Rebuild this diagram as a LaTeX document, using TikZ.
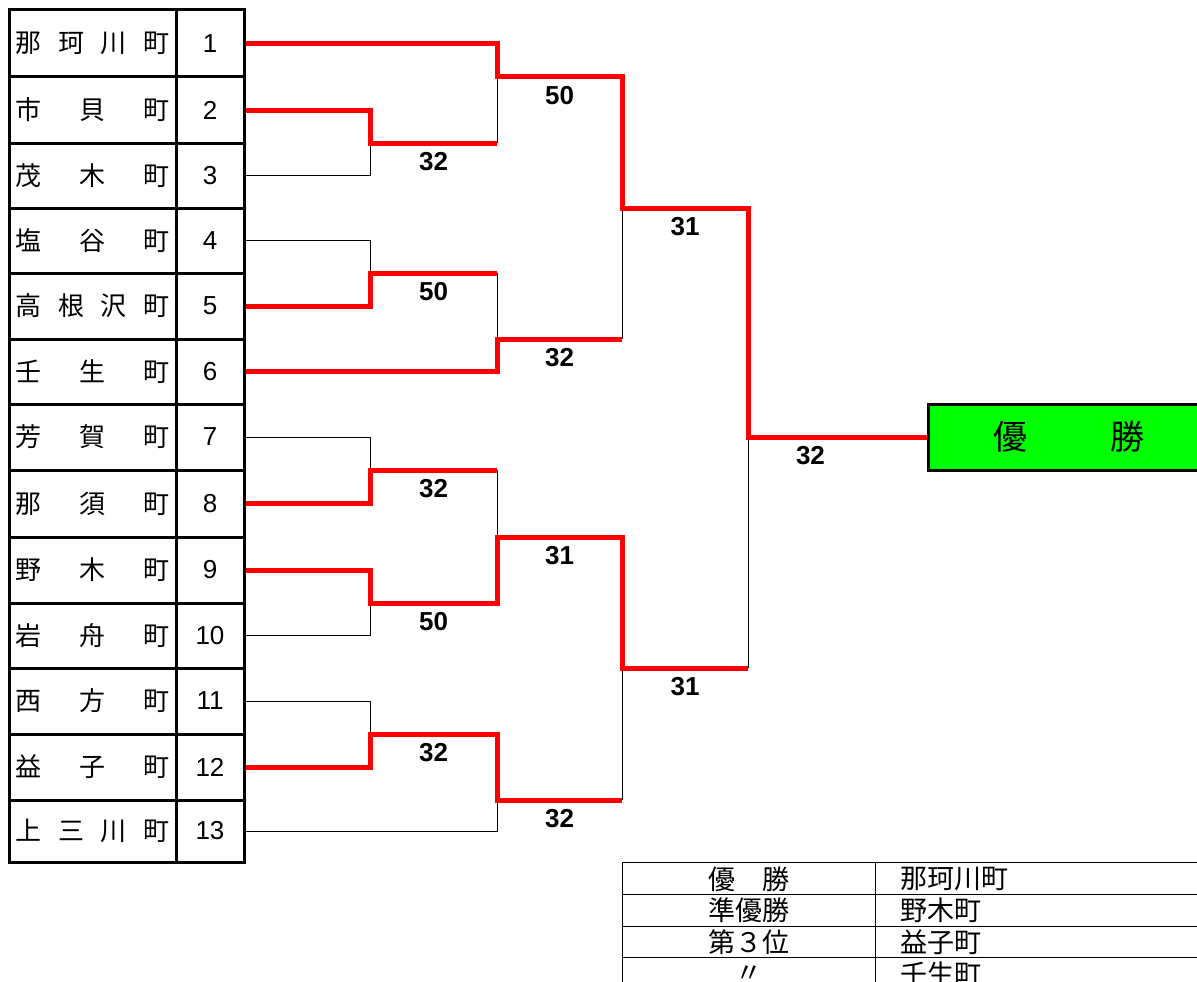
\documentclass[tikz,border=0pt]{standalone}
\usepackage{fontspec}
\setmainfont{Liberation Sans}
\newfontfamily\jpfont{Noto Sans CJK JP}
\usetikzlibrary{backgrounds}
\definecolor{winred}{HTML}{FF0000}
\definecolor{wingreen}{HTML}{00FF00}

\begin{document}
\begin{tikzpicture}[x=1pt, y=-1pt,
    namecell/.style={rectangle, draw, line width=3pt, minimum width=167pt,
                     inner sep=0pt, outer sep=0pt,
                     font=\jpfont\fontsize{26}{26}\selectfont},
    numcell/.style={rectangle, draw, line width=3pt, minimum width=68pt,
                    inner sep=0pt, outer sep=0pt,
                    font=\fontsize{26}{26}\selectfont},
    winline/.style={winred, line width=5pt},
    loseline/.style={black, line width=1pt},
    score/.style={text=black, font=\bfseries\fontsize{26}{26}\selectfont,
                  inner sep=0pt, yshift=-19pt},
    champ/.style={rectangle, draw, line width=3pt, fill=wingreen,
                  minimum width=282pt, minimum height=66pt,
                  font=\jpfont\fontsize{34}{34}\selectfont},
    result/.style={font=\jpfont\fontsize{27}{27}\selectfont, inner sep=0pt}
]
    \useasboundingbox (0,0) rectangle (1197,982);

    % team table
    \foreach \i/\nm/\ya/\yb in {
        1/{那\hfill 珂\hfill 川\hfill 町}/10/77,
        2/{市\hfill 貝\hfill 町}/77/143,
        3/{茂\hfill 木\hfill 町}/143/208,
        4/{塩\hfill 谷\hfill 町}/208/273,
        5/{高\hfill 根\hfill 沢\hfill 町}/273/339,
        6/{壬\hfill 生\hfill 町}/339/404,
        7/{芳\hfill 賀\hfill 町}/404/470,
        8/{那\hfill 須\hfill 町}/470/537,
        9/{野\hfill 木\hfill 町}/537/603,
        10/{岩\hfill 舟\hfill 町}/603/668,
        11/{西\hfill 方\hfill 町}/668/734,
        12/{益\hfill 子\hfill 町}/734/800,
        13/{上\hfill 三\hfill 川\hfill 町}/800/862}{
        \node[namecell, minimum height={(\yb-\ya)*1pt}] (n\i)
            at (92.5,{(\ya+\yb)/2}) {\makebox[154pt]{\nm}};
        \node[numcell, minimum height={(\yb-\ya)*1pt}] (t\i)
            at (210,{(\ya+\yb)/2}) {\i};
    }

    \node[champ] (win) at (1069,437) {優\hspace{83pt}勝};

    % bracket columns and joints
    \coordinate (c1) at (370,0);
    \coordinate (c2) at (497,0);
    \coordinate (c3) at (622,0);
    \coordinate (c4) at (748,0);
    \coordinate (r1a) at (t2.south -| c1);
    \coordinate (r1b) at (t4.south -| c1);
    \coordinate (r1c) at (t7.south -| c1);
    \coordinate (r1d) at (t9.south -| c1);
    \coordinate (r1e) at (t11.south -| c1);
    \coordinate (q1) at (t1.south -| c2);
    \coordinate (q2) at (t5.south -| c2);
    \coordinate (q3) at (t8.south -| c2);
    \coordinate (q4) at (t12.south -| c2);
    \coordinate (s1) at (t3.south -| c3);
    \coordinate (s2) at (t10.south -| c3);
    \coordinate (fin) at (t7 -| c4);

    \begin{scope}[on background layer]
        % losing sides
        \draw[loseline] (t3.east) -- (t3.east -| r1a) -- (r1a);
        \draw[loseline] (r1a -| q1) -- (q1);
        \draw[loseline] (t4.east) -- (t4.east -| r1b) -- (r1b);
        \draw[loseline] (r1b -| q2) -- (q2);
        \draw[loseline] (q2 -| s1) -- (s1);
        \draw[loseline] (t7.east) -- (t7.east -| r1c) -- (r1c);
        \draw[loseline] (r1c -| q3) -- (q3);
        \draw[loseline] (t10.east) -- (t10.east -| r1d) -- (r1d);
        \draw[loseline] (t11.east) -- (t11.east -| r1e) -- (r1e);
        \draw[loseline] (t13.east) -- (t13.east -| q4) -- (q4);
        \draw[loseline] (q4 -| s2) -- (s2);
        \draw[loseline] (s2 -| fin) -- (fin);

        % winning sides
        \draw[winline] (t1.east) -- (t1.east -| q1) -- (q1)
            -- node[score] (sc-q1) {50} (q1 -| s1) -- (s1)
            -- node[score] (sc-s1) {31} (s1 -| fin) -- (fin)
            -- node[score, pos=.35] (sc-fin) {32} (win.west);
        \draw[winline] (t2.east) -- (t2.east -| r1a) -- (r1a)
            -- node[score] (sc-r1a) {32} (r1a -| q1);
        \draw[winline] (t5.east) -- (t5.east -| r1b) -- (r1b)
            -- node[score] (sc-r1b) {50} (r1b -| q2);
        \draw[winline] (t6.east) -- (t6.east -| q2) -- (q2)
            -- node[score] (sc-q2) {32} (q2 -| s1);
        \draw[winline] (t8.east) -- (t8.east -| r1c) -- (r1c)
            -- node[score] (sc-r1c) {32} (r1c -| q3);
        \draw[winline] (t9.east) -- (t9.east -| r1d) -- (r1d)
            -- node[score] (sc-r1d) {50} (r1d -| q3) -- (q3)
            -- node[score] (sc-q3) {31} (q3 -| s2) -- (s2)
            -- node[score] (sc-s2) {31} (s2 -| fin);
        \draw[winline] (t12.east) -- (t12.east -| r1e) -- (r1e)
            -- node[score] (sc-r1e) {32} (r1e -| q4) -- (q4)
            -- node[score] (sc-q4) {32} (q4 -| s2);
    \end{scope}

    % results table
    \draw[loseline] (622.5,862) rectangle (1210,989);
    \foreach \yy in {894,926,957}
        \draw[loseline] (622.5,\yy) -- (1210,\yy);
    \draw[loseline] (875,862) -- (875,989);
    \foreach \k/\rank/\town/\yc in {1/{優　勝}/那珂川町/879,
        2/準優勝/野木町/910.5, 3/第３位/益子町/942, 4/〃/壬生町/974}{
        \node[result] (rank\k) at (749,\yc) {\rank};
        \node[result, anchor=west] (town\k) at (900,\yc) {\town};
    }
\end{tikzpicture}
\end{document}
